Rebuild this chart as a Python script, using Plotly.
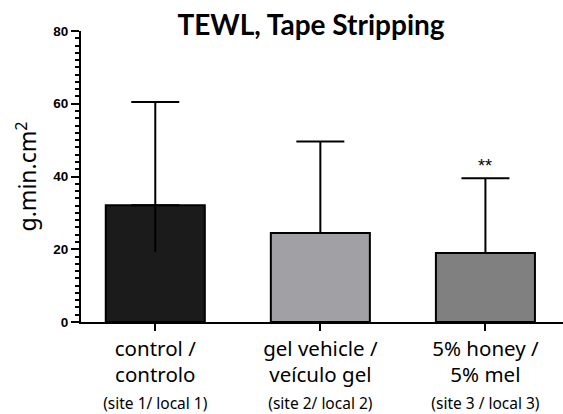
import plotly.graph_objects as go

categories_line1 = ["control /", "gel vehicle /", "5% honey /"]
categories_line2 = ["controlo", "veículo gel", "5% mel"]
categories_line3 = ["(site 1/ local 1)", "(site 2/ local 2)", "(site 3 / local 3)"]
means = [32.1, 24.5, 19.0]
err_plus = [28.4, 25.1, 20.5]
err_minus = [12.9, 0, 0]
significance = ["", "", "**"]
bar_colors = ["#1b1b1b", "#a1a1a5", "#808080"]
y_ticks = [0, 20, 40, 60, 80]

x = list(range(len(means)))
ticktext = [f"{a}<br>{b}<br><span style='font-size:15.5px'>{c}</span>"
            for a, b, c in zip(categories_line1, categories_line2, categories_line3)]

fig = go.Figure()
fig.add_trace(go.Bar(
    x=x, y=means, width=0.6,
    marker=dict(color=bar_colors, line=dict(color="black", width=2)),
    error_y=dict(type="data", symmetric=False, array=err_plus,
                 arrayminus=[0] * len(means), color="black", thickness=2, width=24),
    showlegend=False,
))
for xi, m, lo in zip(x, means, err_minus):
    if lo > 0:
        fig.add_trace(go.Scatter(x=[xi, xi], y=[m - lo, m], mode="lines",
                                 line=dict(color="black", width=2), showlegend=False,
                                 hoverinfo="skip"))
for xi, m, p, s in zip(x, means, err_plus, significance):
    if s:
        fig.add_annotation(x=xi, y=m + p, text=s, showarrow=False, yanchor="bottom",
                           yshift=0, font=dict(family="Liberation Sans", size=18, color="black"))

fig.update_layout(
    width=563, height=414,
    margin=dict(l=81, r=0, t=31, b=92),
    plot_bgcolor="white", paper_bgcolor="white",
    title=dict(text="<b>TEWL, Tape Stripping</b>", x=311 / 563, xref="container",
               xanchor="center", y=1 - 25 / 414, yref="container", yanchor="middle",
               font=dict(family="Lato", size=28, color="black")),
    font=dict(family="Noto Sans", color="black"),
)
fig.update_xaxes(
    range=[-0.45, 2.47], tickvals=x, ticktext=ticktext, automargin=False,
    tickfont=dict(family="Noto Sans", size=20.5, color="black"),
    showline=True, linecolor="black", linewidth=2, showgrid=False, zeroline=False,
    ticks="outside", ticklen=7, tickwidth=2, tickcolor="black",
)
fig.update_yaxes(
    range=[0, 80], tickvals=y_ticks, ticktext=[f"<b>{t}</b>" for t in y_ticks],
    automargin=False,
    tickfont=dict(family="Liberation Sans", size=13.5, color="black"),
    showline=True, linecolor="black", linewidth=2, showgrid=False, zeroline=False,
    ticks="outside", ticklen=8, tickwidth=2, tickcolor="black",
    minor=dict(dtick=2, ticks="outside", ticklen=4, tickwidth=1.5, tickcolor="black"),
    title=dict(text="g.min.cm<sup>2</sup>", font=dict(family="Noto Sans", size=23, color="black"),
               standoff=10),
)
fig.write_html("out.html", config={"displayModeBar": False},
               post_script="document.body.style.margin='0';")
